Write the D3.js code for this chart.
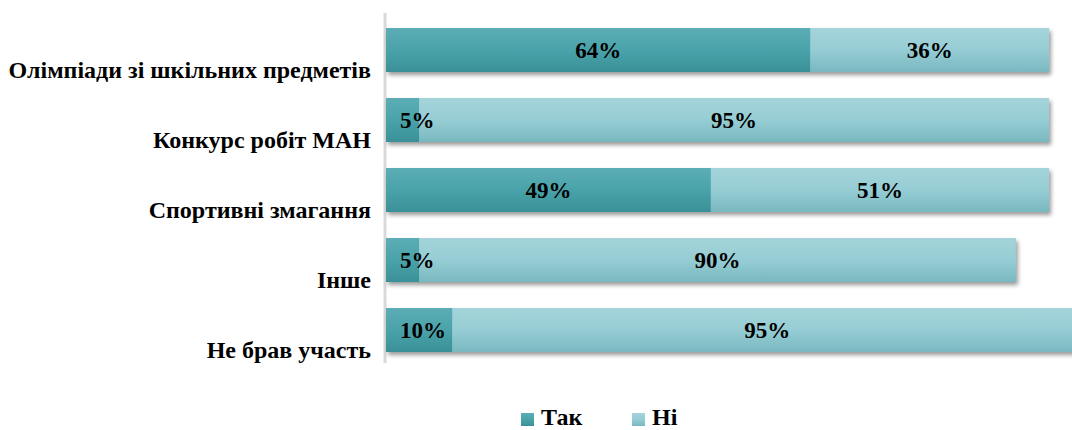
<!DOCTYPE html>
<html><head><meta charset="utf-8">
<script src="https://cdn.jsdelivr.net/npm/d3@7"></script>
<style>
html,body{margin:0;padding:0;background:#fff;overflow:hidden}
svg{display:block}
</style></head>
<body>
<svg id="chart" width="1072" height="430"></svg>
<script>
const categories = ["Олімпіади зі шкільних предметів","Конкурс робіт МАН","Спортивні змагання","Інше","Не брав участь"];
const seriesNames = ["Так","Ні"];
const tak = [64,5,49,5,10];
const ni  = [36,95,51,90,95];

const FONT = "Liberation Serif";
const svg = d3.select("#chart");
const defs = svg.append("defs");
function grad(id, stops){
  const g = defs.append("linearGradient").attr("id",id).attr("x1",0).attr("y1",0).attr("x2",0).attr("y2",1);
  stops.forEach(s=>g.append("stop").attr("offset",s[0]).attr("stop-color",s[1]));
}
grad("gTak",[[0,"#5cadb5"],[0.5,"#4aa3aa"],[1,"#3a9097"]]);
grad("gNi",[[0,"#a4d4da"],[0.5,"#96cdd4"],[1,"#79b8c0"]]);
const f = defs.append("filter").attr("id","sh").attr("x","-5%").attr("y","-30%").attr("width","110%").attr("height","170%");
f.append("feDropShadow").attr("dx",2).attr("dy",3).attr("stdDeviation",2).attr("flood-color","#000").attr("flood-opacity",0.4);

const x = d3.scaleLinear().domain([0,100]).range([386,1049]);
const y = d3.scaleBand().domain(categories).range([15,365]).paddingInner(0.3714).paddingOuter(0.1857);

// axis line
svg.append("line").attr("x1",385).attr("x2",385).attr("y1",13).attr("y2",363)
  .attr("stroke","#d9d9d9").attr("stroke-width",3);

const rows = categories.map((c,i)=>({c, segs:[
  {name:seriesNames[0], x0:0, x1:tak[i], v:tak[i], fill:"url(#gTak)"},
  {name:seriesNames[1], x0:tak[i], x1:tak[i]+ni[i], v:ni[i], fill:"url(#gNi)"}
]}));

const g = svg.selectAll("g.row").data(rows).join("g").attr("class","row");
g.append("rect")
  .attr("x",d=>x(0)).attr("y",d=>y(d.c))
  .attr("width",d=>x(d.segs[1].x1)-x(0)).attr("height",y.bandwidth())
  .attr("fill","#7fbcc4").attr("filter","url(#sh)");
g.selectAll("rect.seg").data(d=>d.segs.map(s=>({...s,c:d.c}))).join("rect").attr("class","seg")
  .attr("x",d=>x(d.x0)).attr("y",d=>y(d.c))
  .attr("width",d=>x(d.x1)-x(d.x0)).attr("height",y.bandwidth())
  .attr("fill",d=>d.fill);

// data labels
g.selectAll("text.lbl").data(d=>d.segs.map(s=>({...s,c:d.c}))).join("text").attr("class","lbl")
  .attr("font-family",FONT).attr("font-weight","bold").attr("fill","#000")
  .attr("font-size",23)
  .attr("text-anchor","middle")
  .attr("y",d=>y(d.c)+y.bandwidth()/2+8)
  .text(d=>d.v+"%")
  .attr("x",function(d){
    const w=this.getComputedTextLength();
    const c=(x(d.x0)+x(d.x1))/2;
    return Math.max(c, x(d.x0)+w/2+14);
  });

// category labels
svg.selectAll("text.cat").data(categories).join("text").attr("class","cat")
  .attr("font-family",FONT).attr("font-weight","bold").attr("fill","#000")
  .attr("font-size",24).attr("text-anchor","end")
  .attr("x",371).attr("y",d=>y(d)+y.bandwidth()+6).text(d=>d);

// legend
const leg = svg.append("g");
const lx=[521,632];
seriesNames.forEach((n,i)=>{
  leg.append("rect").attr("x",lx[i]).attr("y",413).attr("width",13).attr("height",13)
    .attr("fill",i===0?"url(#gTak)":"url(#gNi)");
  leg.append("text").attr("x",lx[i]+20).attr("y",425).attr("font-size",24)
    .attr("font-family",FONT).attr("font-weight","bold").attr("fill","#000").text(n);
});
</script>
</body></html>
